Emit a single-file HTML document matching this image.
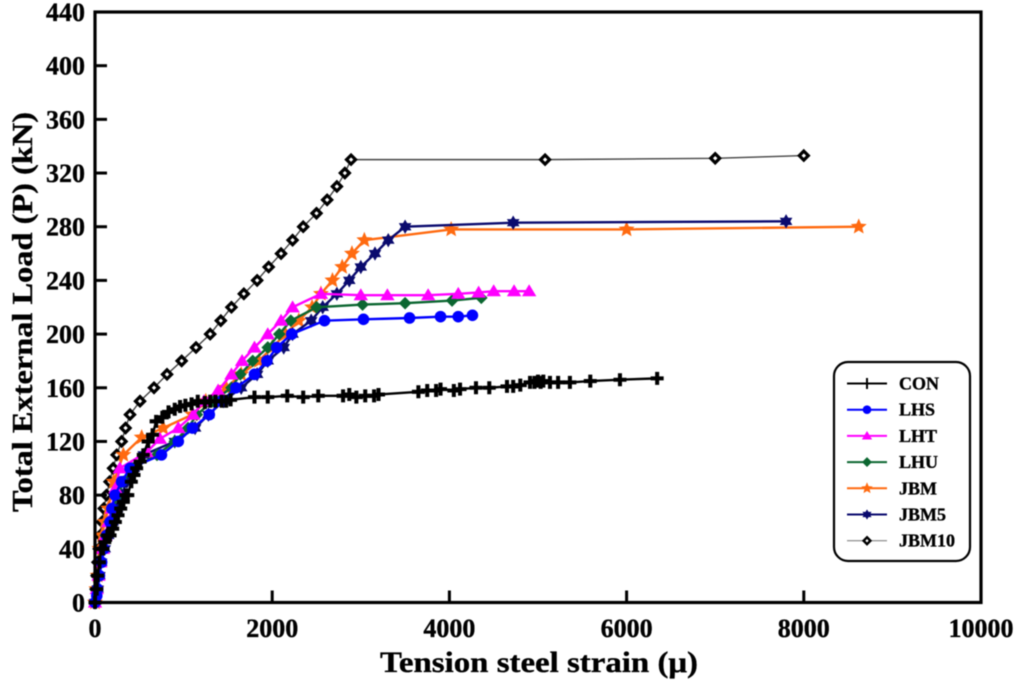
<!DOCTYPE html>
<html>
<head>
<meta charset="utf-8">
<title>Total External Load vs Tension Steel Strain</title>
<style>
html,body{margin:0;padding:0;background:#fff;}
svg{display:block;filter:blur(0.45px);}
text{font-family:"Liberation Serif",serif;font-weight:bold;fill:#000;stroke:#000;stroke-width:0.35px;}
</style>
</head>
<body>
<svg id="chart" width="1024" height="687" viewBox="0 0 1024 687" xmlns="http://www.w3.org/2000/svg"></svg>
<script>
const xTicks = [0, 2000, 4000, 6000, 8000, 10000];
const yTicks = [0, 40, 80, 120, 160, 200, 240, 280, 320, 360, 400, 440];

const conX = [0,20,30,50,70,90,110,140,170,200,230,260,290,320,350,370,410,440,470,510,545,600,650,690,760,830,900,960,1020,1090,1160,1240,1300,1360,1430,1480,1530,1800,1950,2170,2350,2520,2800,2870,2950,3050,3150,3200,3650,3750,3850,3900,4050,4120,4300,4450,4650,4720,4800,4910,4960,5000,5030,5060,5135,5227,5360,5590,5925,6345];
const conY = [0,10,20,30,40,40,45,50,50,55,60,65,70,75,80,80,90,95,100,105,110,120,125,135,138,142,144,146,147,148,150,149,150,150,150,150,151,153,153,154,153,154,154,155,153,154,154,155,157,158,158,159,158,159,160,160,161,161,162,164,164,165,164,165,164,164,164,165,166,167];
const lhsX = [0,20,30,50,75,100,130,170,190,226,300,395,750,940,1100,1290,1430,1590,1800,1940,2050,2220,2590,3030,3550,3900,4100,4260];
const lhsY = [0,5,10,20,30,40,50,60,70,80,90,100,110,120,130,140,150,160,170,180,190,200,210,211,212,213,213,214];
const lhtX = [0,20,40,60,90,120,150,190,230,280,583,733,940,1110,1230,1390,1540,1660,1800,1950,2100,2230,2550,3000,3300,3760,4100,4330,4500,4730,4900];
const lhtY = [0,10,20,30,40,50,60,70,85,100,112,122,130,140,150,158,170,180,190,200,210,220,230,229,229,229,230,231,232,232,232];
const lhuX = [0,20,40,60,90,120,160,200,260,320,420,700,900,1050,1150,1330,1540,1640,1780,1950,2080,2210,2500,3020,3500,4030,4360];
const lhuY = [0,10,20,30,40,50,60,70,80,90,100,110,120,130,140,150,160,170,180,190,200,210,220,222,223,225,227];
const jbmX = [0,15,30,50,80,110,150,210,320,527,770,1100,1250,1480,1650,1850,2000,2150,2300,2450,2550,2680,2790,2900,3040,4020,6000,8620];
const jbmY = [0,10,20,40,50,60,70,90,110,123,130,140,150,160,170,180,190,200,210,220,230,240,250,260,270,278,278,280];
const jbm5X = [0,30,50,70,110,150,200,250,300,360,440,550,900,1130,1280,1450,1650,1830,1950,2130,2230,2440,2570,2730,2870,3000,3160,3310,3500,4720,7800];
const jbm5Y = [0,10,20,30,40,50,60,70,80,90,100,110,120,130,140,150,160,170,180,190,200,210,220,230,240,250,260,270,280,283,284];
const jbm10X = [0,10,20,30,45,60,80,100,130,165,205,245,300,345,395,508,666,813,978,1140,1300,1420,1540,1680,1830,1960,2100,2230,2350,2500,2620,2730,2820,2890,5080,7000,8000];
const jbm10Y = [0,10,20,30,40,50,60,70,80,90,100,110,120,130,140,150,160,170,180,190,200,210,220,230,240,250,260,270,280,290,300,310,320,330,330,331,333];

const chart = document.getElementById('chart');
const NS = 'http://www.w3.org/2000/svg';
const X0 = 95, X1 = 981, Y0 = 602.5, Y1 = 12;
const xScale = v => X0 + (v / 10000) * (X1 - X0);
const yScale = v => Y0 - (v / 440) * (Y0 - Y1);

function make(tag, attrs, parent) {
  const el = document.createElementNS(NS, tag);
  for (const k in attrs) el.setAttribute(k, attrs[k]);
  (parent || chart).appendChild(el);
  return el;
}

function star(cx, cy, r) {
  let p = [];
  for (let i = 0; i < 10; i++) {
    const a = -Math.PI / 2 + i * Math.PI / 5;
    const q = i % 2 ? r * 0.45 : r;
    p.push((cx + q * Math.cos(a)).toFixed(2) + ',' + (cy + q * Math.sin(a)).toFixed(2));
  }
  return p.join(' ');
}

function drawMarker(g, kind, cx, cy, s, color, thin) {
  if (kind === 'plus') {
    make('path', {d:`M${cx-s} ${cy}H${cx+s}M${cx} ${cy-s}V${cy+s}`, stroke:color, 'stroke-width':thin ? 2 : s*0.62, fill:'none'}, g);
  } else if (kind === 'circle') {
    make('circle', {cx:cx, cy:cy, r:s, fill:color}, g);
  } else if (kind === 'triangle') {
    make('polygon', {points:`${cx},${cy-s*1.15} ${cx+s*1.2},${cy+s*0.85} ${cx-s*1.2},${cy+s*0.85}`, fill:color}, g);
  } else if (kind === 'diamond') {
    make('polygon', {points:`${cx},${cy-s*1.15} ${cx+s*1.15},${cy} ${cx},${cy+s*1.15} ${cx-s*1.15},${cy}`, fill:color}, g);
  } else if (kind === 'star') {
    make('polygon', {points:star(cx, cy, s*1.4), fill:color}, g);
  } else if (kind === 'star6') {
    make('polygon', {points:`${cx},${cy-s*1.2} ${cx+s*1.05},${cy+s*0.6} ${cx-s*1.05},${cy+s*0.6}`, fill:color}, g);
    make('polygon', {points:`${cx},${cy+s*1.2} ${cx+s*1.05},${cy-s*0.6} ${cx-s*1.05},${cy-s*0.6}`, fill:color}, g);
  } else if (kind === 'hollow') {
    make('polygon', {points:`${cx},${cy-s} ${cx+s},${cy} ${cx},${cy+s} ${cx-s},${cy}`, fill:'#fff', stroke:color, 'stroke-width':s*0.72}, g);
  }
}

const seriesList = [
  {name:'jbm10', xs:jbm10X, ys:jbm10Y, color:'#000000', lineColor:'#444444', width:1.4, kind:'hollow', size:4.5},
  {name:'jbm', xs:jbmX, ys:jbmY, color:'#ff6a10', lineColor:'#ff6a10', width:2.4, kind:'star', size:6},
  {name:'jbm5', xs:jbm5X, ys:jbm5Y, color:'#0a0a6e', lineColor:'#0a0a6e', width:2.4, kind:'star6', size:6},
  {name:'lhu', xs:lhuX, ys:lhuY, color:'#0b6630', lineColor:'#0b6630', width:2.4, kind:'diamond', size:5.5},
  {name:'lht', xs:lhtX, ys:lhtY, color:'#ff00ff', lineColor:'#ff00ff', width:2.4, kind:'triangle', size:6},
  {name:'lhs', xs:lhsX, ys:lhsY, color:'#0000ff', lineColor:'#0000ff', width:2.4, kind:'circle', size:5.8},
  {name:'con', xs:conX, ys:conY, color:'#000000', lineColor:'#000000', width:2.4, kind:'plus', size:6.5}
];

seriesList.forEach(s => {
  const g = make('g', {});
  
  
  const pts = s.xs.map((v, i) => xScale(v).toFixed(2) + ',' + yScale(s.ys[i]).toFixed(2)).join(' ');
  const line = make('polyline', {points:pts, fill:'none', stroke:s.lineColor, 'stroke-width':s.width}, g);
  
  
  s.xs.forEach((v, i) => drawMarker(g, s.kind, xScale(v), yScale(s.ys[i]), s.size, s.color, false));
});

const frame = make('rect', {x:X0, y:Y1, width:X1-X0, height:Y0-Y1, fill:'none', stroke:'#000', 'stroke-width':3.2});



xTicks.forEach(v => {
  const x = xScale(v);
  const tick = make('line', {x1:x, x2:x, y1:Y0, y2:Y0-12, stroke:'#000', 'stroke-width':3});
  
  
  const t = make('text', {x:x, y:637, 'text-anchor':'middle', 'font-size':26});
  t.textContent = v;
  
  
});

yTicks.forEach(v => {
  const y = yScale(v);
  const tick = make('line', {x1:X0, x2:X0+12, y1:y, y2:y, stroke:'#000', 'stroke-width':3});
  
  
  const t = make('text', {x:85, y:y+9, 'text-anchor':'end', 'font-size':26});
  t.textContent = v;
  
  
});

const xTitle = make('text', {x:539, y:672, 'text-anchor':'middle', 'font-size':30, textLength:318, lengthAdjust:'spacingAndGlyphs'});
xTitle.textContent = 'Tension steel strain (μ)';



const yTitle = make('text', {x:0, y:0, transform:'translate(32,312) rotate(-90)', 'text-anchor':'middle', 'font-size':29, textLength:400, lengthAdjust:'spacingAndGlyphs'});
yTitle.textContent = 'Total External Load (P) (kN)';



const legend = make('g', {});


make('rect', {x:834, y:362, width:136, height:199, rx:14, ry:14, fill:'#fff', stroke:'#000', 'stroke-width':2.2}, legend);

const legendLabels = ['CON', 'LHS', 'LHT', 'LHU', 'JBM', 'JBM5', 'JBM10'];
const legendOrder = ['con', 'lhs', 'lht', 'lhu', 'jbm', 'jbm5', 'jbm10'];
legendLabels.forEach((label, i) => {
  const s = seriesList.find(k => k.name === legendOrder[i]);
  const y = 383.5 + i * 26.2;
  const entry = make('g', {}, legend);
  
  
  make('line', {x1:847, x2:887, y1:y, y2:y, stroke:label === 'JBM10' ? '#999999' : s.lineColor, 'stroke-width':label === 'JBM10' ? 1.3 : 2}, entry);
  drawMarker(entry, s.kind, 867, y, label === 'JBM10' ? 3.4 : (label === 'CON' ? 5.5 : 4.3), s.color, true);
  const t = make('text', {x:899, y:y+6, 'font-size':18}, entry);
  t.textContent = label;
});
</script>
</body>
</html>
